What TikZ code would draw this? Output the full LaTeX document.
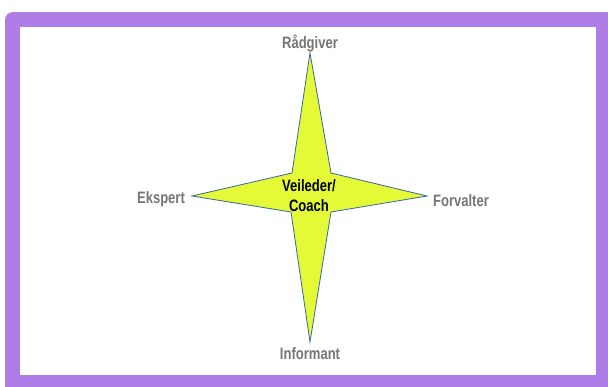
\documentclass[tikz,border=0pt]{standalone}
\usepackage{fontspec}
\setmainfont{Liberation Sans}[FakeStretch=0.79]
\usetikzlibrary{positioning}
\definecolor{framepurple}{RGB}{175,125,232}
\definecolor{starfill}{RGB}{229,250,55}
\definecolor{staredge}{RGB}{52,101,164}
\definecolor{lblgray}{RGB}{118,118,118}
\tikzset{role/.style={font=\fontsize{16.5}{18}\selectfont\bfseries, text=lblgray, inner sep=0pt, anchor=base},
         middle/.style={font=\fontsize{16.5}{20}\selectfont\bfseries, text=black, inner sep=0pt, align=center}}
\begin{document}
\begin{tikzpicture}[x=1pt,y=-1pt]
  \useasboundingbox (0,0) rectangle (608,386);
  % frame
  \fill[framepurple, rounded corners=8pt] (5,12) rectangle (620,398);
  \fill[white] (20,27) rectangle (596,375);
  % star
  \coordinate (top)   at (310, 53);
  \coordinate (bot)   at (310,342);
  \coordinate (left)  at (192,196);
  \coordinate (right) at (427,196);
  \coordinate (ul) at (292,173);
  \coordinate (ur) at (331,173);
  \coordinate (lr) at (331,212);
  \coordinate (ll) at (291,212);
  \draw[staredge, fill=starfill, line width=0.8pt, line join=miter]
    (top) -- (ur) -- (right) -- (lr) -- (bot) -- (ll) -- (left) -- (ul) -- cycle;
  % labels
  \node[role] (radgiver)  at (310, 48) {Rådgiver};
  \node[role] (ekspert)   at (161,203) {Ekspert};
  \node[role] (forvalter) at (461,206) {Forvalter};
  \node[role] (informant) at (310,359) {Informant};
  \node[middle] (coach) at (309,196) {Veileder/\\Coach};
\end{tikzpicture}
\end{document}
